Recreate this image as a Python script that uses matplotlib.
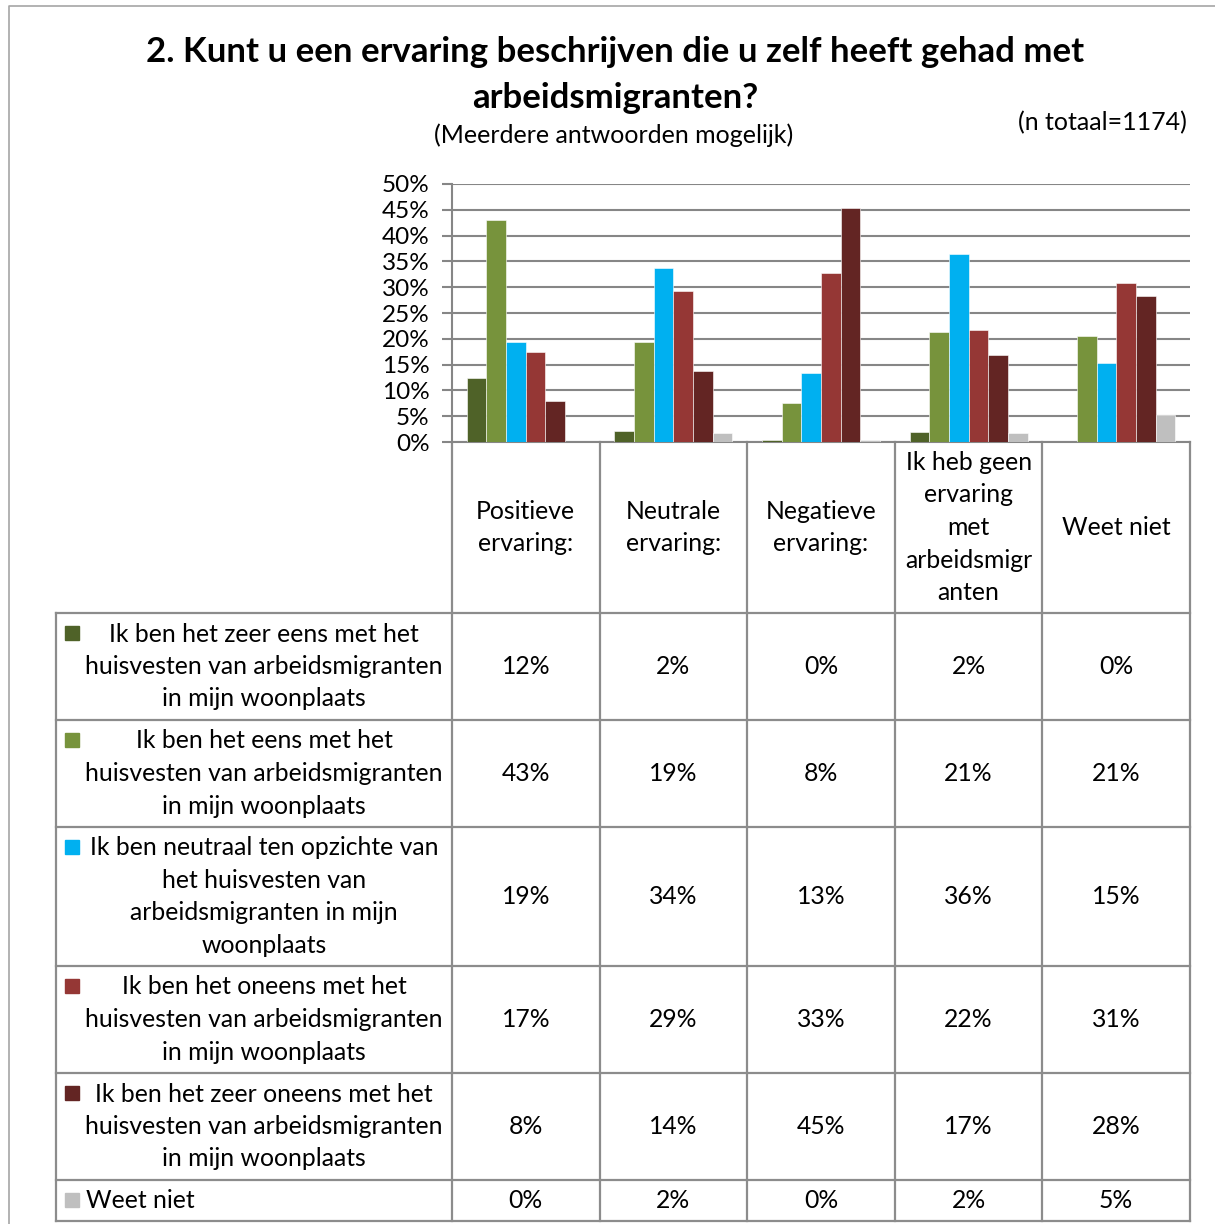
import numpy as np
import matplotlib.pyplot as plt

plt.rcParams['font.family'] = ['Lato', 'DejaVu Sans']

categories = ['Positieve\nervaring:', 'Neutrale\nervaring:', 'Negatieve\nervaring:',
              'Ik heb geen\nervaring\nmet\narbeidsmigr\nanten', 'Weet niet']
series_labels = [
    'Ik ben het zeer eens met het\nhuisvesten van arbeidsmigranten\nin mijn woonplaats',
    'Ik ben het eens met het\nhuisvesten van arbeidsmigranten\nin mijn woonplaats',
    'Ik ben neutraal ten opzichte van\nhet huisvesten van\narbeidsmigranten in mijn\nwoonplaats',
    'Ik ben het oneens met het\nhuisvesten van arbeidsmigranten\nin mijn woonplaats',
    'Ik ben het zeer oneens met het\nhuisvesten van arbeidsmigranten\nin mijn woonplaats',
    'Weet niet',
]
zeer_eens = [12.4, 2.1, 0.4, 1.9, 0.0]
eens = [43.0, 19.4, 7.6, 21.4, 20.6]
neutraal = [19.4, 33.8, 13.4, 36.4, 15.4]
oneens = [17.4, 29.3, 32.8, 21.7, 30.8]
zeer_oneens = [7.9, 13.8, 45.4, 16.9, 28.2]
weet_niet = [0.0, 1.7, 0.4, 1.7, 5.2]
series = [zeer_eens, eens, neutraal, oneens, zeer_oneens, weet_niet]
colors = ['#4F6228', '#77933C', '#00B0F0', '#953735', '#632523', '#BFBFBF']

W, H = 1215, 1224
fig = plt.figure(figsize=(W / 100, H / 100), dpi=100)

# background axes in pixel coordinates for title and table
bg = fig.add_axes([0, 0, 1, 1])
bg.set_xlim(0, W)
bg.set_ylim(H, 0)
bg.axis('off')

# outer frame
bg.plot([9, 9, W], [H, 6, 6], color='#a6a6a6', lw=1.2)

bg.text(615, 52, '2. Kunt u een ervaring beschrijven die u zelf heeft gehad met',
        ha='center', va='center', fontsize=25, fontweight='bold')
bg.text(615, 98, 'arbeidsmigranten?', ha='center', va='center', fontsize=25, fontweight='bold')
bg.text(614, 135, '(Meerdere antwoorden mogelijk)', ha='center', va='center', fontsize=18)
bg.text(1187, 123, '(n totaal=1174)', ha='right', va='center', fontsize=18)

# chart
x0, x1, y0, y1 = 452, 1190, 184, 442
ax = fig.add_axes([x0 / W, 1 - y1 / H, (x1 - x0) / W, (y1 - y0) / H])
n = len(series)
w = 0.8 / n
pos = np.arange(len(categories))
for i, vals in enumerate(series):
    ax.bar(pos + (i - (n - 1) / 2) * w, vals, width=w, color=colors[i],
           edgecolor='#ffffff', linewidth=0.4, zorder=3)
ax.set_xlim(-0.5, len(categories) - 0.5)
ax.set_ylim(0, 50)
ax.set_yticks(range(0, 51, 5))
ax.set_yticklabels([f'{t}%' for t in range(0, 51, 5)])
ax.set_xticks([])
ax.yaxis.grid(True, color='#868686', lw=1.5)
ax.set_axisbelow(True)
ax.tick_params(axis='y', length=7, width=1.5, color='#868686', labelsize=17.5, pad=9)
for s in ['top', 'right']:
    ax.spines[s].set_visible(False)
for s in ['left', 'bottom']:
    ax.spines[s].set_color('#868686')
    ax.spines[s].set_linewidth(1.5)
ax.patch.set_alpha(0)

# data table
tcol = '#8c8c8c'
col_x = np.linspace(x0, x1, len(categories) + 1)
row_y = [613, 720, 827, 966, 1073, 1180, 1221]
left = 56
for cx in col_x:
    bg.plot([cx, cx], [y1, row_y[-1]], color=tcol, lw=1.6)
bg.plot([left, left], [row_y[0], row_y[-1]], color=tcol, lw=1.6)
for ry in row_y:
    bg.plot([left, x1], [ry, ry], color=tcol, lw=1.6)

fs = 17.8
ls = 1.5
for j, cat in enumerate(categories):
    bg.text((col_x[j] + col_x[j + 1]) / 2, (y1 + row_y[0]) / 2, cat,
            ha='center', va='center', fontsize=fs, linespacing=ls)

for i, lab in enumerate(series_labels):
    top, bot = row_y[i], row_y[i + 1]
    bg.add_patch(plt.Rectangle((65, top + 13), 14, 14, color=colors[i]))
    if i == len(series_labels) - 1:
        bg.text(86, (top + bot) / 2, lab, ha='left', va='center', fontsize=fs)
    else:
        bg.text(264, (top + bot) / 2, lab, ha='center', va='center',
                fontsize=fs, linespacing=ls)
    for j, v in enumerate(series[i]):
        bg.text((col_x[j] + col_x[j + 1]) / 2, (top + bot) / 2, f'{v:.0f}%',
                ha='center', va='center', fontsize=fs)

fig.savefig('out.png', dpi=100)
